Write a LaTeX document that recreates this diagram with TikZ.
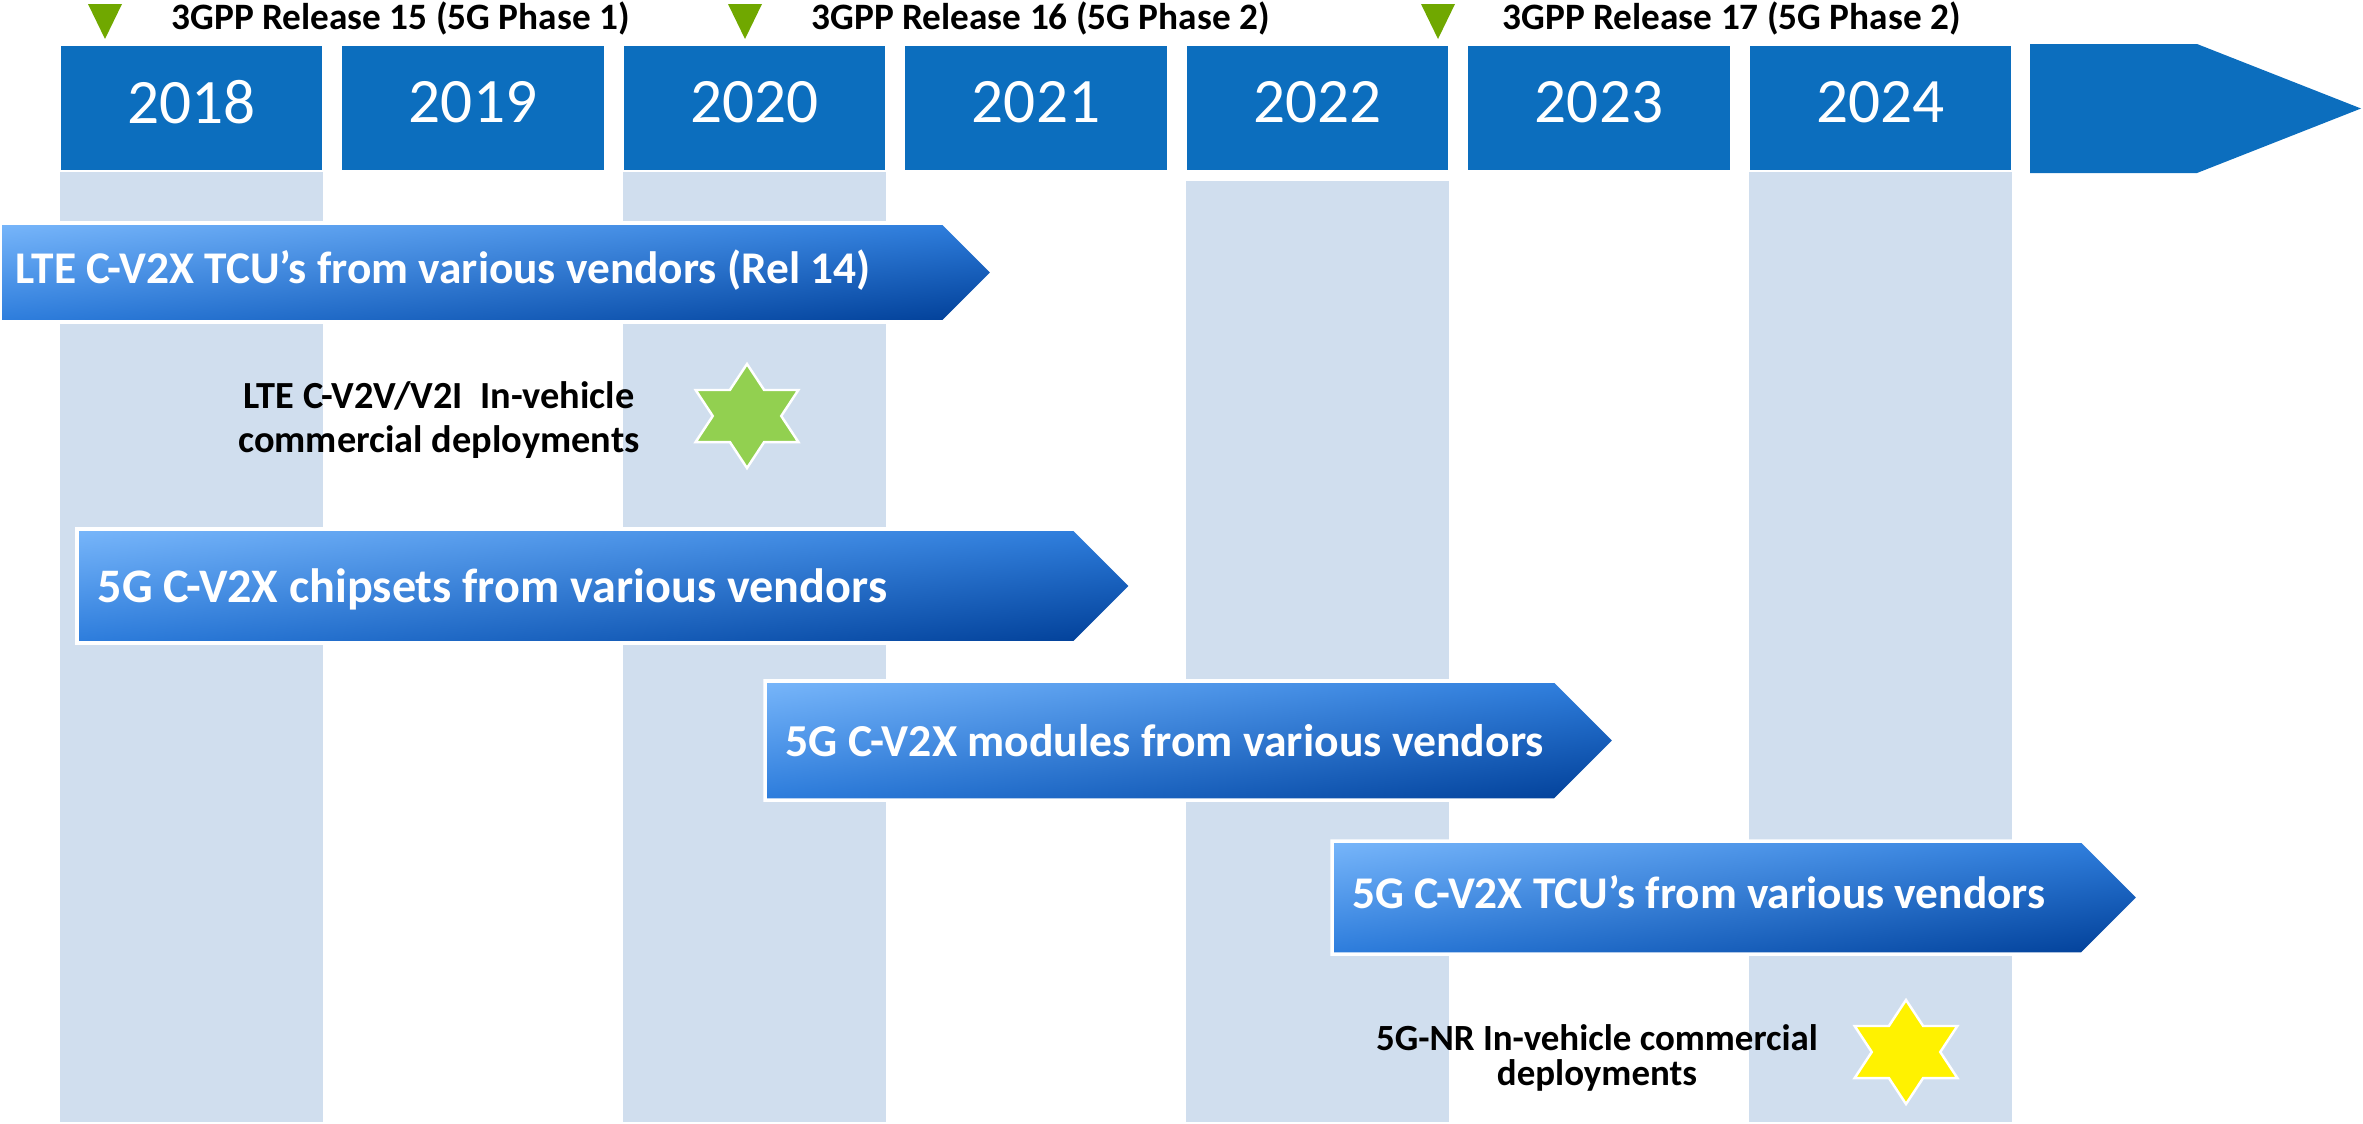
\documentclass[tikz,border=0pt]{standalone}
\usepackage{fontspec}
\setmainfont{Carlito}
\usepackage{tikz}
\usetikzlibrary{positioning}
\usetikzlibrary{shapes.geometric}
\usetikzlibrary{shadings}

\definecolor{yearblue}{RGB}{12,110,190}
\definecolor{colshade}{RGB}{208,222,238}
\definecolor{relgreen}{RGB}{112,168,0}
\definecolor{stargreen}{RGB}{146,208,80}
\definecolor{arrlight}{RGB}{120,182,250}
\definecolor{arrmid}{RGB}{44,124,220}
\definecolor{arrdark}{RGB}{0,62,150}

\begin{document}
\begin{tikzpicture}[x=0.01cm, y=-0.01cm,
  yearbox/.style={fill=yearblue, draw=white, line width=0.4pt, minimum width=2.63cm,
    minimum height=1.26cm, inner sep=0pt, text depth=0.12cm, text=white,
    font=\fontsize{18}{20}\selectfont},
  reltext/.style={anchor=base west, inner sep=0pt, font=\bfseries\fontsize{10.6}{12}\selectfont},
  arrowbar/.style={draw=white, line width=1pt, upper left=arrlight, upper right=arrmid,
    lower left=arrmid, lower right=arrdark},
  bartext/.style={anchor=base west, inner sep=0pt, text=white},
  note/.style={align=center, inner sep=0pt},
  star6/.style={star, star points=6, star point ratio=1.732, minimum size=1.04cm,
    inner sep=0pt, draw=white, line width=0.7pt, xscale=1.14}]

 \useasboundingbox (0,0) rectangle (2363,1124);

 % shaded columns
 \foreach \x/\top in {60/172, 623/172, 1186/181, 1749/172} {
        \fill[colshade] (\x,\top) rectangle (\x+263,1122);
 }

 % years
 \foreach \i/\yr in {0/2018, 1/2019, 2/2020, 3/2021, 4/2022, 5/2023, 6/2024} {
        \node[yearbox] (y\yr) at (\i*281.5+191.5, 108) {\yr};
 }
 \fill[yearblue] (2030,44) -- (2197,44) -- (2361,108.5) -- (2197,173) -- (2030,173) -- cycle;

 % releases
 \foreach \x in {105, 745, 1438} {
        \fill[relgreen] (\x-17,4) -- (\x+17,4) -- (\x,39) -- cycle;
 }
 \node[reltext] (rel15) at (171,30) {3GPP Release 15 (5G Phase 1)};
 \node[reltext] (rel16) at (811,30) {3GPP Release 16 (5G Phase 2)};
 \node[reltext] (rel17) at (1502,30) {3GPP Release 17 (5G Phase 2)};

 % bars
 \foreach \nm/\xa/\xb/\ya/\yb/\tx/\bl/\fs/\txt in {
        lte/0/943/223/322/15/283/12.9/{LTE C-V2X TCU’s from various vendors (Rel 14)},
        chips/77/1074/529/643/97/602/13.7/{5G C-V2X chipsets from various vendors},
        modules/765/1555/681/800/785/756/13/{5G C-V2X modules from various vendors},
        tcu/1332/2082/841/954/1352/908/12.9/{5G C-V2X TCU’s from various vendors}} {
        \shadedraw[arrowbar] (\xa,\ya) -- (\xb,\ya) -- ({\xb+(\yb-\ya)/2},{(\ya+\yb)/2})
              -- (\xb,\yb) -- (\xa,\yb) -- cycle;
        \node[bartext, font=\bfseries\fontsize{\fs}{\fs}\selectfont] (\nm) at (\tx,\bl) {\txt};
 }

 % deployments
 \node[star6, fill=stargreen] (greenstar) at (747,416) {};
 \node[note, font=\bfseries\fontsize{10.9}{12.6}\selectfont] (ltenote) at (439,420)
        {LTE C-V2V/V2I\ \ In-vehicle\\commercial deployments};
 \node[star6, fill=yellow] (yellowstar) at (1906,1052) {};
 \node[note, font=\bfseries\fontsize{10.5}{10.2}\selectfont] (nrnote) at (1597,1058)
        {5G-NR In-vehicle commercial\\deployments};

\end{tikzpicture}
\end{document}
